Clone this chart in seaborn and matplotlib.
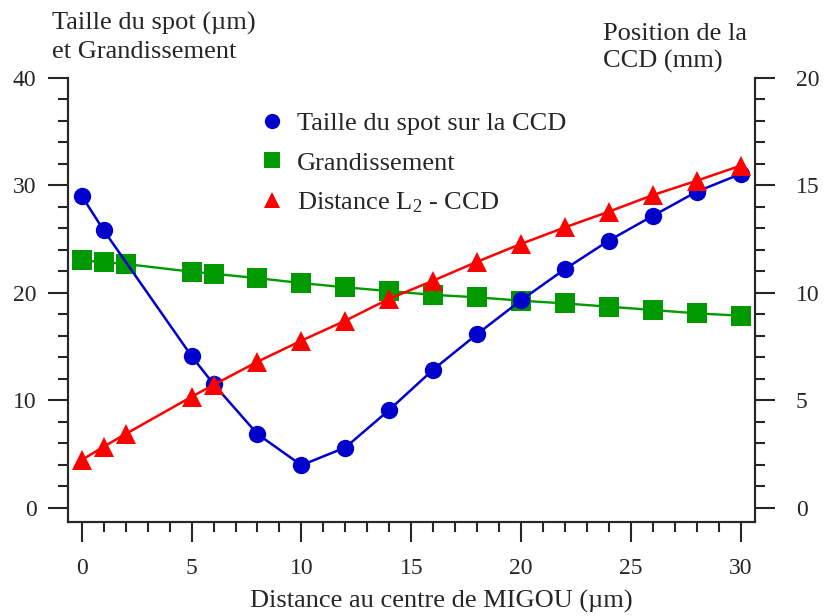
import matplotlib
matplotlib.use("Agg")
import seaborn as sns
from matplotlib import pyplot as plt
from matplotlib.lines import Line2D
from matplotlib.ticker import MultipleLocator

# Distance au centre de MIGOU (um)
x_spot = [0, 1, 5, 6, 8, 10, 12, 14, 16, 18, 20, 22, 24, 26, 28, 30]
x_all = [0, 1, 2, 5, 6, 8, 10, 12, 14, 16, 18, 20, 22, 24, 26, 28, 30]

# Taille du spot sur la CCD (um) - axe gauche
taille = [29.0, 25.8, 14.1, 11.5, 6.85, 3.95, 5.6, 9.1, 12.85, 16.15, 19.3,
          22.2, 24.85, 27.15, 29.4, 31.05]
# Grandissement - axe gauche
grand = [23.0, 22.85, 22.67, 21.95, 21.77, 21.35, 20.9, 20.5, 20.15, 19.8,
         19.57, 19.26, 19.0, 18.7, 18.39, 18.08, 17.86]
# Distance L2 - CCD (mm) - axe droit
dist = [2.22, 2.84, 3.43, 5.16, 5.71, 6.79, 7.77, 8.7, 9.72, 10.56, 11.44,
        12.27, 13.04, 13.77, 14.54, 15.21, 15.91]

blue = "#0000cc"
green = "#009900"
red = "#ff0000"

sns.set_style("ticks")
plt.rcParams["font.family"] = ["Liberation Serif", "DejaVu Serif"]
plt.rcParams["mathtext.fontset"] = "custom"
plt.rcParams["mathtext.rm"] = "Liberation Serif"
plt.rcParams["mathtext.it"] = "Liberation Serif:italic"
fs_tick = 17
fs = 19

fig = plt.figure(figsize=(8.24, 6.16), dpi=100)
ax = fig.add_axes([67.7 / 824, 1 - 522 / 616, (755 - 67.7) / 824, (522 - 77.7) / 616])
ax2 = ax.twinx()

sns.lineplot(x=x_all, y=grand, ax=ax, color=green, marker="s", markersize=14,
             markeredgewidth=0, linewidth=1.7, legend=False)
sns.lineplot(x=x_spot, y=taille, ax=ax, color=blue, marker="o", markersize=12.5,
             markeredgewidth=0, linewidth=1.8, legend=False)
sns.lineplot(x=x_all, y=dist, ax=ax2, color=red, marker="^", markersize=14,
             markeredgewidth=0, linewidth=1.8, legend=False)

ax.set_xlim(-0.64, 30.65)
ax.set_ylim(-1.33, 40)
ax2.set_ylim(-0.665, 20)

ax.xaxis.set_major_locator(MultipleLocator(5))
ax.xaxis.set_minor_locator(MultipleLocator(1))
ax.yaxis.set_major_locator(MultipleLocator(10))
ax.yaxis.set_minor_locator(MultipleLocator(2))
ax2.yaxis.set_major_locator(MultipleLocator(5))
ax2.yaxis.set_minor_locator(MultipleLocator(1))

for a in (ax, ax2):
    a.spines["top"].set_visible(False)
    for s in a.spines.values():
        s.set_linewidth(1.5)
    a.tick_params(which="major", direction="out", length=14.4, width=1.5,
                  labelsize=fs_tick, pad=8)
    a.tick_params(which="minor", direction="out", length=7.2, width=1.5)
    a.set_xlabel("")
    a.set_ylabel("")
ax.tick_params(axis="x", which="major", pad=11.5)
ax2.tick_params(axis="y", which="major", pad=15)

fig.text(441 / 824, 1 - 608 / 616, "Distance au centre de MIGOU (\u00b5m)",
         fontsize=fs, ha="center", va="baseline")

fig.text(52 / 824, 1 - 30 / 616, "Taille du spot (\u00b5m)", fontsize=fs, va="baseline")
fig.text(52 / 824, 1 - 58 / 616, "et Grandissement", fontsize=fs, va="baseline")
fig.text(603 / 824, 1 - 40 / 616, "Position de la", fontsize=fs, va="baseline")
fig.text(603 / 824, 1 - 68 / 616, "CCD (mm)", fontsize=fs, va="baseline")

handles = [
    Line2D([], [], linestyle="none", marker="o", color=blue, markersize=11, markeredgewidth=0),
    Line2D([], [], linestyle="none", marker="s", color=green, markersize=11, markeredgewidth=0),
    Line2D([], [], linestyle="none", marker="^", color=red, markersize=11, markeredgewidth=0),
]
labels = ["Taille du spot sur la CCD", "Grandissement", "Distance L$_2$ - CCD"]
fig.legend(handles, labels, loc="upper left", bbox_to_anchor=(258.8 / 824, 1 - 112 / 616),
           frameon=False, fontsize=fs, borderpad=0, borderaxespad=0,
           handlelength=1.0, handletextpad=0.45, labelspacing=0.59)

fig.savefig("out.png", dpi=100)
